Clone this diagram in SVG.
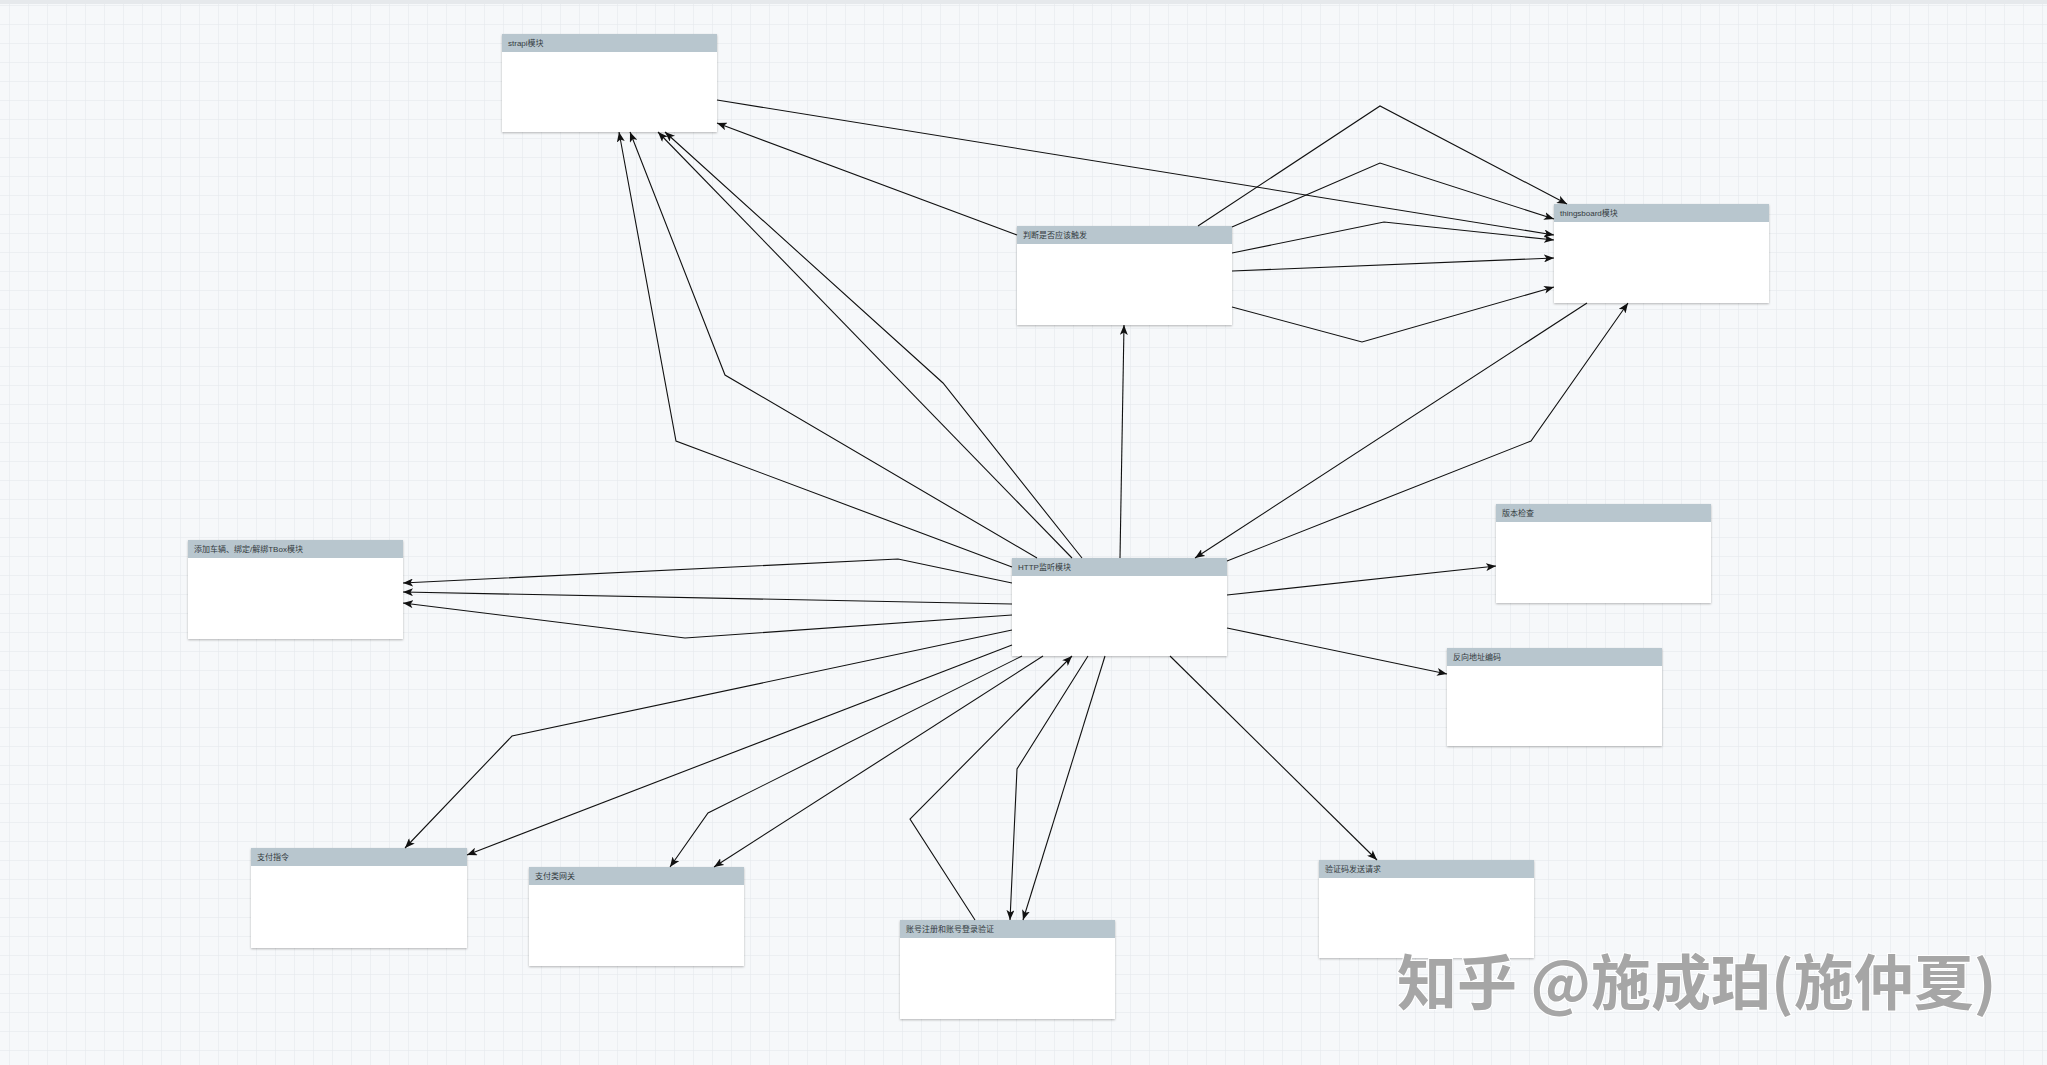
<svg xmlns="http://www.w3.org/2000/svg" width="2047" height="1065" viewBox="0 0 2047 1065">
<style>
.box{fill:#ffffff;}
.hdr{fill:#b8c6ce;}
.lbl{font-family:"Liberation Sans","Noto Sans CJK SC",sans-serif;font-size:8px;fill:#333a40;}
.edge{fill:none;stroke:#111111;stroke-width:1.1;marker-end:url(#arr);}
.wm{font-family:"Noto Sans CJK SC","Liberation Sans",sans-serif;font-size:60px;font-weight:bold;fill:#a6a6a6;stroke:#ffffff;stroke-width:2;paint-order:stroke;}
</style>
<defs>
<pattern id="grid" width="19" height="19" patternUnits="userSpaceOnUse" x="9" y="5">
<path d="M19 0 L0 0 0 19" fill="none" stroke="#e2e6ea" stroke-width="1"/>
</pattern>
<marker id="arr" markerWidth="10" markerHeight="8" refX="10" refY="4" orient="auto" markerUnits="userSpaceOnUse">
<path d="M0,0 L10,4 L0,8 L2.5,4 z" fill="#111111"/>
</marker>
<filter id="sh" x="-5%" y="-5%" width="110%" height="115%">
<feDropShadow dx="0" dy="1" stdDeviation="1.2" flood-color="#000000" flood-opacity="0.28"/>
</filter>
</defs>
<rect width="2047" height="1065" fill="#f6f8fa"/>
<rect width="2047" height="1065" fill="url(#grid)"/>
<rect width="2047" height="4" fill="#e6e9ec"/>

<g id="nodes">
<g id="strapi">
<rect class="box" x="502" y="34" width="215" height="98" filter="url(#sh)"/>
<rect class="hdr" x="502" y="34" width="215" height="18"/>
<text class="lbl" x="508" y="46">strapi模块</text>
</g>
<g id="thingsboard">
<rect class="box" x="1554" y="204" width="215" height="99" filter="url(#sh)"/>
<rect class="hdr" x="1554" y="204" width="215" height="18"/>
<text class="lbl" x="1560" y="216">thingsboard模块</text>
</g>
<g id="judge">
<rect class="box" x="1017" y="226" width="215" height="99" filter="url(#sh)"/>
<rect class="hdr" x="1017" y="226" width="215" height="18"/>
<text class="lbl" x="1023" y="238">判断是否应该触发</text>
</g>
<g id="vehicle">
<rect class="box" x="188" y="540" width="215" height="99" filter="url(#sh)"/>
<rect class="hdr" x="188" y="540" width="215" height="18"/>
<text class="lbl" x="194" y="552">添加车辆、绑定/解绑TBox模块</text>
</g>
<g id="http">
<rect class="box" x="1012" y="558" width="215" height="98" filter="url(#sh)"/>
<rect class="hdr" x="1012" y="558" width="215" height="18"/>
<text class="lbl" x="1018" y="570">HTTP监听模块</text>
</g>
<g id="version">
<rect class="box" x="1496" y="504" width="215" height="99" filter="url(#sh)"/>
<rect class="hdr" x="1496" y="504" width="215" height="18"/>
<text class="lbl" x="1502" y="516">版本检查</text>
</g>
<g id="geocode">
<rect class="box" x="1447" y="648" width="215" height="98" filter="url(#sh)"/>
<rect class="hdr" x="1447" y="648" width="215" height="18"/>
<text class="lbl" x="1453" y="660">反向地址编码</text>
</g>
<g id="paycmd">
<rect class="box" x="251" y="848" width="216" height="100" filter="url(#sh)"/>
<rect class="hdr" x="251" y="848" width="216" height="18"/>
<text class="lbl" x="257" y="860">支付指令</text>
</g>
<g id="paygw">
<rect class="box" x="529" y="867" width="215" height="99" filter="url(#sh)"/>
<rect class="hdr" x="529" y="867" width="215" height="18"/>
<text class="lbl" x="535" y="879">支付类网关</text>
</g>
<g id="account">
<rect class="box" x="900" y="920" width="215" height="99" filter="url(#sh)"/>
<rect class="hdr" x="900" y="920" width="215" height="18"/>
<text class="lbl" x="906" y="932">账号注册和账号登录验证</text>
</g>
<g id="sms">
<rect class="box" x="1319" y="860" width="215" height="98" filter="url(#sh)"/>
<rect class="hdr" x="1319" y="860" width="215" height="18"/>
<text class="lbl" x="1325" y="872">验证码发送请求</text>
</g>
</g>

<g id="connectors">
<path class="edge" d="M717,100 L1554,235"/>
<path class="edge" d="M1017,235 L717,123"/>
<path class="edge" d="M1198,226 L1380,106 L1567,204"/>
<path class="edge" d="M1232,227 L1380,163 L1554,219"/>
<path class="edge" d="M1232,253 L1384,222 L1554,240"/>
<path class="edge" d="M1232,271 L1554,258"/>
<path class="edge" d="M1232,307 L1362,342 L1554,287"/>
<path class="edge" d="M1120,558 L1124,325"/>
<path class="edge" d="M1587,303 L1195,558"/>
<path class="edge" d="M1227,561 L1531,441 L1628,303"/>
<path class="edge" d="M1012,567 L676,441 L619,132"/>
<path class="edge" d="M1037,558 L725,375 L630,132"/>
<path class="edge" d="M1082,558 L943,383 L665,132"/>
<path class="edge" d="M1072,558 L658,132"/>
<path class="edge" d="M1012,583 L898,559 L403,583"/>
<path class="edge" d="M1012,604 L403,592"/>
<path class="edge" d="M1012,615 L685,638 L403,603"/>
<path class="edge" d="M1012,630 L512,736 L405,848"/>
<path class="edge" d="M1012,645 L467,855"/>
<path class="edge" d="M1022,656 L708,813 L670,867"/>
<path class="edge" d="M1043,656 L714,867"/>
<path class="edge" d="M975,920 L910,819 L1072,656"/>
<path class="edge" d="M1088,656 L1017,769 L1010,920"/>
<path class="edge" d="M1105,656 L1023,920"/>
<path class="edge" d="M1170,656 L1377,860"/>
<path class="edge" d="M1227,595 L1496,566"/>
<path class="edge" d="M1227,628 L1447,674"/>
</g>

<text class="wm" x="1397" y="1005">知乎 @施成珀(施仲夏)</text>
</svg>
